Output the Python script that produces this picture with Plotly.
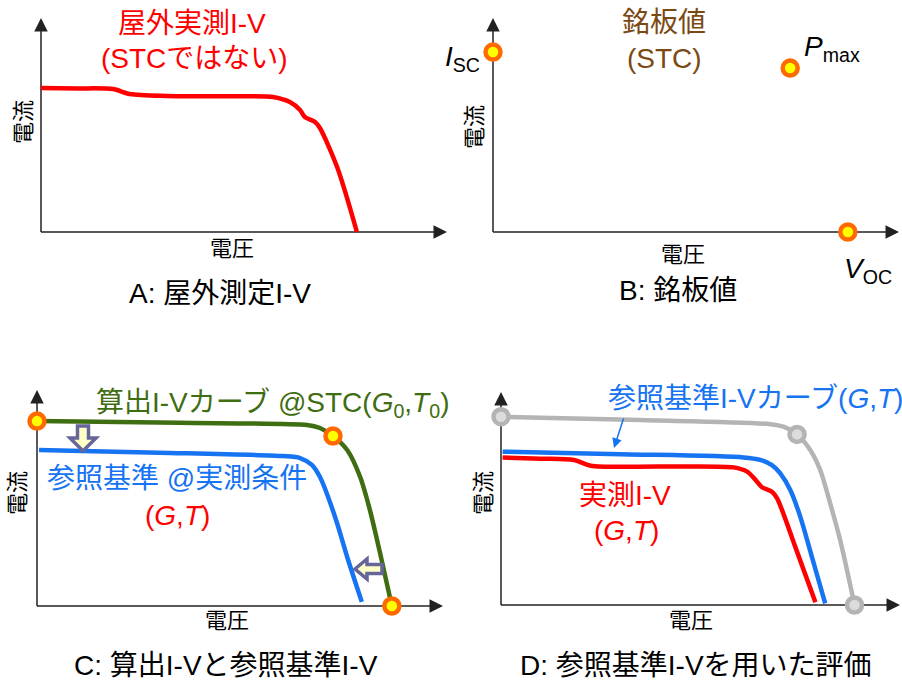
import plotly.graph_objects as go

W, H = 902, 682
FONT = "Liberation Sans, Arial, Noto Sans CJK JP, sans-serif"

RED = "#FF0000"
GREEN = "#3F6D12"
BLUE = "#1673F2"
BROWN = "#7B4A14"
GREY = "#B4B4B4"
AXIS = "#222222"

# values are fractions of each axis length (0 = origin, 1 = arrow tip)

# A: outdoor measured I-V
a_meas_v = [0.0, 0.09, 0.177, 0.219, 0.31, 0.45, 0.571, 0.613, 0.638, 0.65, 0.675, 0.687, 0.73, 0.778]
a_meas_i = [0.673, 0.671, 0.668, 0.645, 0.636, 0.634, 0.631, 0.607, 0.570, 0.537, 0.514, 0.486, 0.30, 0.0]

# B: nameplate values (Isc, Pmax, Voc)
b_pts_v = [0.0, 0.732, 0.874]
b_pts_i = [0.841, 0.766, 0.0]

# C: calculated STC curve and reference curve at measured conditions
c_stc_v = [0.0, 0.35, 0.665, 0.697, 0.729, 0.764, 0.796, 0.820, 0.845, 0.874]
c_stc_i = [0.856, 0.848, 0.838, 0.824, 0.787, 0.722, 0.597, 0.444, 0.245, 0.0]
c_pts_v = [0.0, 0.729, 0.874]
c_pts_i = [0.856, 0.787, 0.0]
c_ref_v = [0.005, 0.3, 0.606, 0.648, 0.677, 0.697, 0.717, 0.739, 0.764, 0.800]
c_ref_i = [0.722, 0.710, 0.694, 0.685, 0.653, 0.597, 0.505, 0.384, 0.227, 0.019]

# D: evaluation using the reference curve
d_stc_v = [0.0, 0.35, 0.675, 0.708, 0.742, 0.775, 0.800, 0.825, 0.850, 0.886]
d_stc_i = [0.884, 0.868, 0.849, 0.837, 0.801, 0.728, 0.634, 0.477, 0.305, 0.0]
d_pts_v = [0.0, 0.742, 0.886]
d_pts_i = [0.884, 0.801, 0.0]
d_ref_v = [0.004, 0.3, 0.608, 0.650, 0.679, 0.700, 0.725, 0.750, 0.779, 0.8125]
d_ref_i = [0.720, 0.708, 0.693, 0.681, 0.657, 0.618, 0.540, 0.415, 0.227, 0.008]
d_meas_v = [0.004, 0.1, 0.183, 0.225, 0.4, 0.583, 0.617, 0.638, 0.654, 0.679, 0.692, 0.74, 0.788]
d_meas_i = [0.692, 0.687, 0.681, 0.654, 0.650, 0.646, 0.626, 0.587, 0.553, 0.532, 0.501, 0.26, 0.013]

# panel frames in pixels: origin x, arrow tip x, origin y, arrow tip y
panels = {
    "A": ("", 41, 447, 232, 18),
    "B": ("2", 493, 899, 232, 18),
    "C": ("3", 37, 443, 606, 390),
    "D": ("4", 501, 900, 605, 392),
}
XLO, XHI, YLO, YHI = -0.08, 1.0, -0.08, 1.05


def px(x, y):
    return x / W, 1 - y / H


fig = go.Figure()
layout = {}
for key, (n, x0, x1, y0, y1) in panels.items():
    qx0, qx1 = x0 / W, x1 / W
    qy0, qy1 = 1 - y0 / H, 1 - y1 / H
    layout["xaxis" + n] = dict(domain=[qx0 + XLO * (qx1 - qx0), qx0 + XHI * (qx1 - qx0)],
                               range=[XLO, XHI], visible=False, fixedrange=True,
                               anchor="y" + n)
    layout["yaxis" + n] = dict(domain=[qy0 + YLO * (qy1 - qy0), min(1, qy0 + YHI * (qy1 - qy0))],
                               range=[YLO, YHI], visible=False, fixedrange=True,
                               anchor="x" + n)
fig.update_layout(**layout)


def ax_of(key):
    n = panels[key][0]
    return "x" + n, "y" + n


def curve(key, v, i, color, width=4.5):
    xa, ya = ax_of(key)
    fig.add_trace(go.Scatter(x=v, y=i, xaxis=xa, yaxis=ya, mode="lines",
                             line=dict(color=color, width=width, shape="spline", smoothing=0.8),
                             cliponaxis=False, hoverinfo="skip", showlegend=False))


def dots(key, v, i, fill, edge):
    xa, ya = ax_of(key)
    fig.add_trace(go.Scatter(x=v, y=i, xaxis=xa, yaxis=ya, mode="markers",
                             marker=dict(size=15, color=fill, line=dict(color=edge, width=4.5)),
                             cliponaxis=False, hoverinfo="skip", showlegend=False))


curve("A", a_meas_v, a_meas_i, RED)
dots("B", b_pts_v, b_pts_i, "#FFFF00", "#FF6A00")
curve("C", c_ref_v, c_ref_i, BLUE)
curve("C", c_stc_v, c_stc_i, GREEN)
dots("C", c_pts_v, c_pts_i, "#FFFF00", "#FF6A00")
curve("D", d_stc_v, d_stc_i, GREY)
dots("D", d_pts_v, d_pts_i, "#DCDCDC", GREY)
curve("D", d_ref_v, d_ref_i, BLUE)
curve("D", d_meas_v, d_meas_i, RED)

shapes = []
annotations = []
for key in panels:
    xa, ya = ax_of(key)
    shapes.append(dict(type="line", xref=xa, yref=ya, x0=0, y0=0, x1=0.97, y1=0,
                       line=dict(color=AXIS, width=1.5), layer="below"))
    shapes.append(dict(type="line", xref=xa, yref=ya, x0=0, y0=0, x1=0, y1=0.95,
                       line=dict(color=AXIS, width=1.5), layer="below"))
    annotations.append(dict(xref=xa, yref=ya, x=1, y=0, ax=-14, ay=0, text="",
                            showarrow=True, arrowhead=2, arrowsize=1.8, arrowwidth=1.5,
                            arrowcolor=AXIS))
    annotations.append(dict(xref=xa, yref=ya, x=0, y=1, ax=0, ay=14, text="",
                            showarrow=True, arrowhead=2, arrowsize=1.8, arrowwidth=1.5,
                            arrowcolor=AXIS))


def block_arrow(tip_x, tip_y, direction, length, head_len, shaft_half, head_half):
    # outline of a block arrow, built in pixels then turned into paper coords
    if direction == "down":
        pts = [(tip_x, tip_y), (tip_x - head_half, tip_y - head_len),
               (tip_x - shaft_half, tip_y - head_len), (tip_x - shaft_half, tip_y - length),
               (tip_x + shaft_half, tip_y - length), (tip_x + shaft_half, tip_y - head_len),
               (tip_x + head_half, tip_y - head_len)]
    else:
        pts = [(tip_x, tip_y), (tip_x + head_len, tip_y - head_half),
               (tip_x + head_len, tip_y - shaft_half), (tip_x + length, tip_y - shaft_half),
               (tip_x + length, tip_y + shaft_half), (tip_x + head_len, tip_y + shaft_half),
               (tip_x + head_len, tip_y + head_half)]
    path = "M " + " L ".join("%.5f,%.5f" % px(x, y) for x, y in pts) + " Z"
    return dict(type="path", xref="paper", yref="paper", path=path,
                fillcolor="#FFFFC8", line=dict(color="#66669A", width=3.5))


shapes.append(block_arrow(83, 451, "down", 25, 13, 5.5, 13))
shapes.append(block_arrow(355, 569, "left", 27, 12, 4.5, 10))


def label(text, x, y, size=28, color="black", xanchor="center", angle=0):
    qx, qy = px(x, y)
    annotations.append(dict(xref="paper", yref="paper", x=qx, y=qy, text=text,
                            showarrow=False, xanchor=xanchor, yanchor="middle",
                            textangle=angle, font=dict(family=FONT, size=size, color=color)))


# panel A
label("屋外実測I-V", 192, 24, color=RED)
label("(STCではない)", 194, 58, color=RED)
label("電流", 23, 122, size=22, angle=-90)
label("電圧", 232, 248, size=22)
label("A: 屋外測定I-V", 220, 293)

# panel B
label("銘板値", 664, 23, color=BROWN)
label("(STC)", 664, 58, color=BROWN)
label("<i>I</i><sub>SC</sub>", 482, 58, xanchor="right")
label("<i>P</i><sub>max</sub>", 802, 48, xanchor="left")
label("<i>V</i><sub>OC</sub>", 842, 270, xanchor="left")
label("電流", 474, 127, size=22, angle=-90)
label("電圧", 683, 254, size=22)
label("B: 銘板値", 678, 290)

# panel C
label("算出I-Vカーブ @STC(<i>G</i><sub>0</sub>,<i>T</i><sub>0</sub>)", 272, 404, color=GREEN)
label("参照基準 @実測条件", 177, 478, color=BLUE)
label("(<i>G</i>,<i>T</i>)", 177, 515, color=RED)
label("電流", 17, 493, size=22, angle=-90)
label("電圧", 227, 620, size=22)
label("C: 算出I-Vと参照基準I-V", 226, 665)

# panel D
label("参照基準I-Vカーブ(<i>G</i>,<i>T</i>)", 755, 398, color=BLUE)
label("実測I-V", 625, 495, color=RED)
label("(<i>G</i>,<i>T</i>)", 626, 530, color=RED)
label("電流", 483, 493, size=22, angle=-90)
label("電圧", 691, 620, size=22)
label("D: 参照基準I-Vを用いた評価", 696, 665)

hx, hy = px(614, 448)
annotations.append(dict(xref="paper", yref="paper", x=hx, y=hy, ax=10, ay=-31, text="",
                        showarrow=True, arrowhead=2, arrowsize=1.3, arrowwidth=1.5,
                        arrowcolor=BLUE))

fig.update_layout(width=W, height=H, margin=dict(l=0, r=0, t=0, b=0),
                  paper_bgcolor="white", plot_bgcolor="rgba(0,0,0,0)",
                  shapes=shapes, annotations=annotations, showlegend=False)
fig.write_html("out.html", config={"displayModeBar": False},
               post_script="document.body.style.margin='0';document.body.style.overflow='hidden';")
